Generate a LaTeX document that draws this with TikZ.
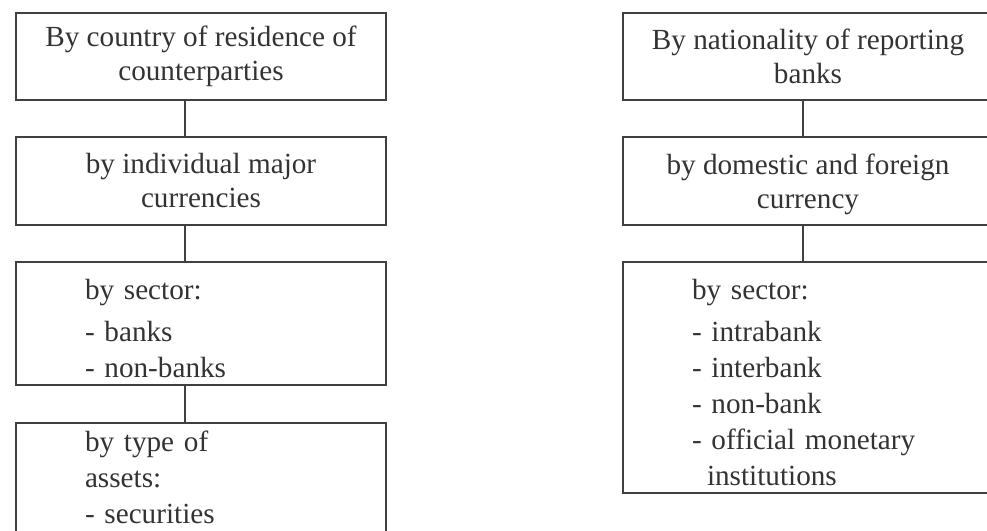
\documentclass[tikz,border=0pt]{standalone}
\usepackage{fontspec}
\setmainfont{Liberation Serif}
\usepackage{tikz}

\tikzset{
  box/.style={draw=black!75, line width=0.9pt, minimum width=185pt, inner sep=0pt,
    text=black!80, align=center, font=\fontsize{14.6pt}{17pt}\selectfont},
  listbox/.style={box, text width=116pt, inner xsep=34.5pt, align=left,
    font=\fontsize{14.6pt}{18pt}\selectfont},
  link/.style={draw=black!75, line width=0.9pt}
}
\newcommand{\firstline}{\rule{0pt}{15pt}}

\begin{document}
\begin{tikzpicture}[x=0.5pt, y=-0.5pt]
  \useasboundingbox (0,0) rectangle (987,531);
  \clip (0,0) rectangle (987,531);

  % Left column
  \node[box, minimum height=43.5pt] (lbox1) at (201,56.5) {By country of residence of\\counterparties};
  \node[box, minimum height=44pt] (lbox2) at (201,181) {by individual major\\currencies};
  \node[listbox, minimum height=61.5pt] (lbox3) at (201,323.5) {\firstline by sector:\\[3pt]- banks\\- non-banks};
  \node[listbox, anchor=north, inner ysep=4pt, text depth=60pt] (lbox4) at (201,422) {by type of\\assets:\\- securities};

  % Right column
  \node[box, minimum height=43.5pt] (rbox1) at (808,56.5) {By nationality of reporting\\banks};
  \node[box, minimum height=44pt, text depth=0pt] (rbox2) at (808,181) {by domestic and foreign\\currency};
  \node[listbox, minimum height=115.5pt] (rbox3) at (808,377.5) {\firstline by sector:\\[3pt]- intrabank\\- interbank\\- non-bank\\- official monetary\\\hspace*{7.5pt}institutions};

  % Connectors
  \coordinate (lc) at (185,0);
  \coordinate (rc) at (803,0);
  \draw[link] (lbox1.south -| lc) -- (lbox2.north -| lc);
  \draw[link] (lbox2.south -| lc) -- (lbox3.north -| lc);
  \draw[link] (lbox3.south -| lc) -- (lbox4.north -| lc);
  \draw[link] (rbox1.south -| rc) -- (rbox2.north -| rc);
  \draw[link] (rbox2.south -| rc) -- (rbox3.north -| rc);
\end{tikzpicture}
\end{document}
